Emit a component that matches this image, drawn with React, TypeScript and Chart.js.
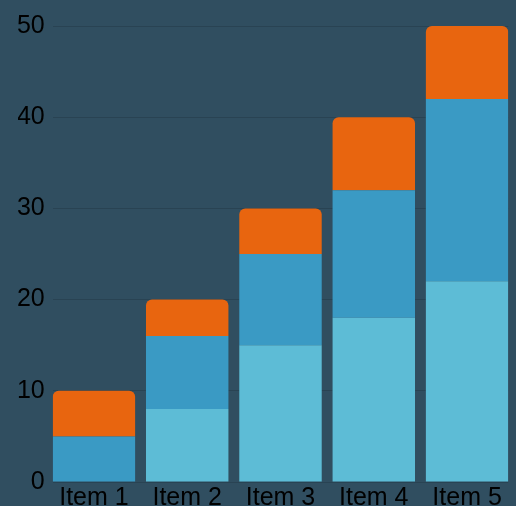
import React, { useEffect, useRef } from "react";
import { Chart, registerables } from "chart.js";

Chart.register(...registerables);

const categories = ["Item 1", "Item 2", "Item 3", "Item 4", "Item 5"];
const seriesA = [0, 8, 15, 18, 22];
const seriesB = [5, 8, 10, 14, 20];
const seriesC = [5, 4, 5, 8, 8];
const yTicks = [0, 10, 20, 30, 40, 50];

const BG = "#304e60";
const FONT = "'Liberation Sans', Arial, sans-serif";
const HALF = 0.4418;

export default function App() {
  const ref = useRef<HTMLCanvasElement | null>(null);

  useEffect(() => {
    if (!ref.current) return;
    const toPts = (arr: number[]) => arr.map((v, i) => ({ x: i, y: v }));
    const chart = new Chart(ref.current, {
      type: "bar",
      data: {
        datasets: [
          { label: "A", data: toPts(seriesA) as any, backgroundColor: "#5dbcd6", borderWidth: 0 },
          { label: "B", data: toPts(seriesB) as any, backgroundColor: "#3a9ac4", borderWidth: 0 },
          {
            label: "C",
            data: toPts(seriesC) as any,
            backgroundColor: "#e8650f",
            borderWidth: 0,
            borderRadius: { topLeft: 6, topRight: 6, bottomLeft: 0, bottomRight: 0 },
            borderSkipped: false,
          },
        ],
      },
      options: {
        responsive: false,
        animation: false,
        devicePixelRatio: 1,
        layout: { padding: { left: 18, right: 7.7, top: 26, bottom: 0 } },
        plugins: { legend: { display: false }, tooltip: { enabled: false } },
        datasets: { bar: { categoryPercentage: 1, barPercentage: 2 * HALF } },
        scales: {
          x: {
            type: "linear",
            stacked: true,
            offset: false,
            min: -HALF,
            max: categories.length - 1 + HALF,
            grid: { display: false, drawTicks: false, offset: false },
            border: { display: false },
            afterBuildTicks: (scale: any) => {
              scale.ticks = categories.map((_, i) => ({ value: i }));
            },
            ticks: {
              padding: 1,
              color: "#000",
              font: { family: FONT, size: 25 },
              maxRotation: 0,
              autoSkip: false,
              callback: (v: any) => categories[Math.round(Number(v))] ?? "",
            },
          },
          y: {
            stacked: true,
            min: yTicks[0],
            max: yTicks[yTicks.length - 1],
            afterBuildTicks: (scale: any) => {
              scale.ticks = yTicks.map((v) => ({ value: v }));
            },
            afterFit: (scale: any) => {
              scale.width = 34.7;
            },
            grid: { color: "rgba(0,0,0,0.13)", drawTicks: false, lineWidth: 1 },
            border: { display: false },
            ticks: {
              padding: 8,
              color: "#000",
              font: { family: FONT, size: 25 },
            },
          },
        },
      },
    });
    return () => chart.destroy();
  }, []);

  return (
    <div
      style={{
        position: "fixed",
        left: 0,
        top: 0,
        width: "100vw",
        height: "100vh",
        background: BG,
        overflow: "hidden",
      }}
    >
      <canvas ref={ref} width={516} height={514} style={{ display: "block" }} />
    </div>
  );
}
